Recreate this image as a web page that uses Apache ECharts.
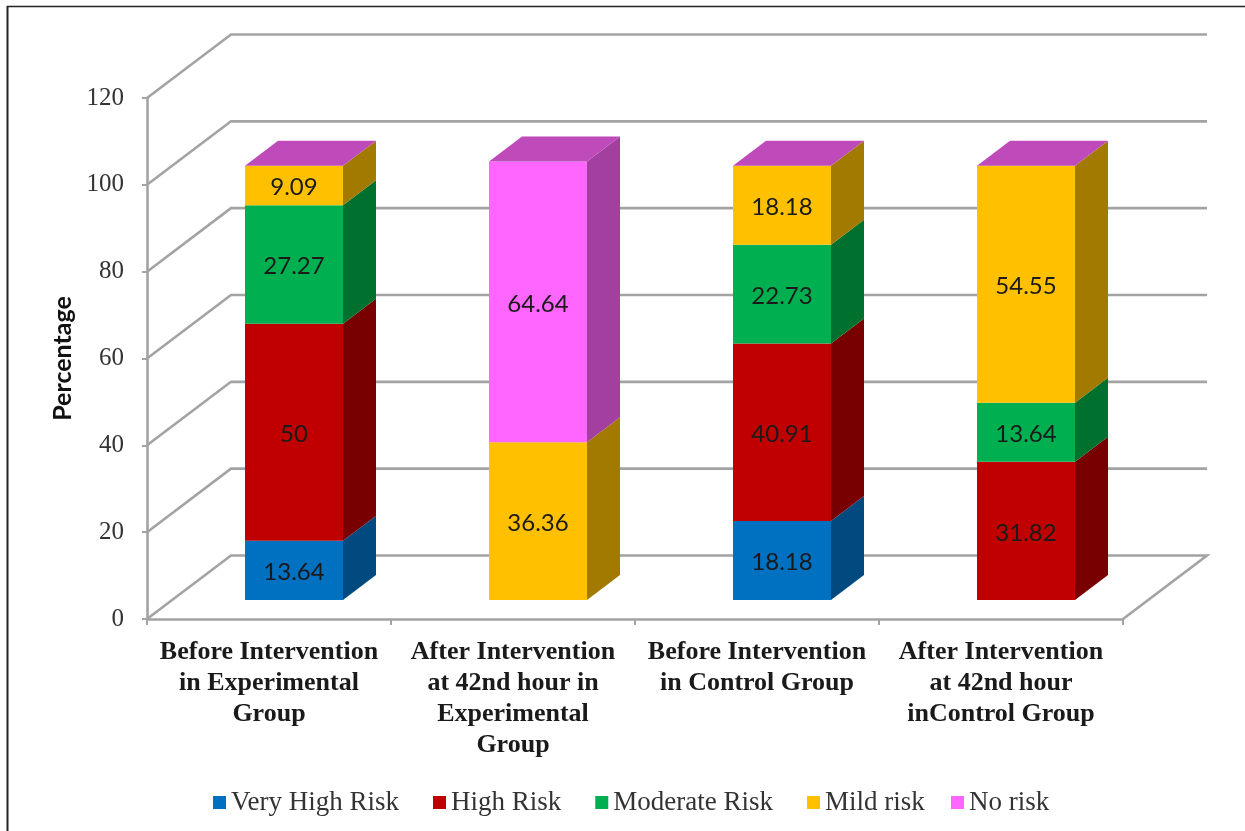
<!DOCTYPE html>
<html>
<head>
<meta charset="utf-8">
<style>html,body{margin:0;padding:0;background:#fff}#chart{width:1245px;height:831px}</style>
<script src="https://cdn.jsdelivr.net/npm/echarts@6/dist/echarts.min.js"></script>
</head>
<body>
<div id="chart"></div>
<script>
// Risk distribution by study group, drawn as pseudo-3D stacked columns.
const categories = [
  'Before Intervention\nin Experimental\nGroup',
  'After Intervention\nat 42nd hour in\nExperimental\nGroup',
  'Before Intervention\nin Control Group',
  'After Intervention\nat 42nd hour\ninControl Group'
];
const veryHighRisk = [13.64, 0, 18.18, 0];
const highRisk = [50, 0, 40.91, 31.82];
const moderateRisk = [27.27, 0, 22.73, 13.64];
const mildRisk = [9.09, 36.36, 18.18, 54.55];
const noRisk = [0, 64.64, 0, 0];
const yTicks = [0, 20, 40, 60, 80, 100, 120];

const serif = '"Liberation Serif", "Times New Roman", serif';
const sans = 'Lato, "Open Sans", sans-serif';
const gridGray = '#a3a3a3';

// Projection of the chart box: wall depth, column inset and column depth.
const WALL = [84, -63.5];
const INSET = [25, -19];
const DEPTH = [33, -25];
const BAR_W = 98;

const stackDefs = [
  { name: 'Very High Risk', values: veryHighRisk, front: '#0070c0', side: '#004a7f' },
  { name: 'High Risk', values: highRisk, front: '#c00000', side: '#780000' },
  { name: 'Moderate Risk', values: moderateRisk, front: '#00b050', side: '#00702f' },
  { name: 'Mild risk', values: mildRisk, front: '#ffc000', side: '#a37a00' },
  { name: 'No risk', values: noRisk, front: '#ff66ff', side: '#a23f9f' }
];
const TOP_FACE = '#bf4bba';

const poly = (points, fill) => ({
  type: 'polygon',
  shape: { points },
  style: { fill, stroke: null }
});

function renderSegment(def, isTopmost) {
  return function (params, api) {
    const idx = api.value(0);
    const lo = api.value(1);
    const hi = api.value(2);
    const pLo = api.coord([idx, lo]);
    const pHi = api.coord([idx, hi]);
    const x0 = pLo[0] + INSET[0] - BAR_W / 2;
    const x1 = x0 + BAR_W;
    const yLo = pLo[1] + INSET[1];
    const yHi = pHi[1] + INSET[1];
    const children = [];
    if (hi > lo) {
      children.push(poly([[x1, yLo], [x1 + DEPTH[0], yLo + DEPTH[1]], [x1 + DEPTH[0], yHi + DEPTH[1]], [x1, yHi]], def.side));
      children.push(poly([[x0, yLo], [x1, yLo], [x1, yHi], [x0, yHi]], def.front));
      children.push({
        type: 'text',
        z2: 5,
        style: {
          text: String(api.value(3)),
          x: (x0 + x1) / 2,
          y: (yLo + yHi) / 2 + 2,
          align: 'center',
          verticalAlign: 'middle',
          fill: '#1a1a1a',
          font: '24px ' + sans
        }
      });
    }
    if (isTopmost) {
      children.push(poly([[x0, yHi], [x1, yHi], [x1 + DEPTH[0], yHi + DEPTH[1]], [x0 + DEPTH[0], yHi + DEPTH[1]]], TOP_FACE));
    }
    return { type: 'group', children };
  };
}

// Cumulative stacking of every risk level per column.
const running = categories.map(() => 0);
const barSeries = stackDefs.map((def, s) => {
  const data = def.values.map((v, i) => {
    const lo = running[i];
    running[i] = lo + v;
    return [i, lo, running[i], v];
  });
  return {
    name: def.name,
    type: 'custom',
    coordinateSystem: 'cartesian2d',
    itemStyle: { color: def.front },
    encode: { x: 0, y: [1, 2] },
    data,
    z: 3,
    renderItem: renderSegment(def, s === stackDefs.length - 1)
  };
});

// Gridlines run along the side wall and back wall; the zero line also closes the floor.
const wallSeries = {
  type: 'custom',
  name: 'walls',
  coordinateSystem: 'cartesian2d',
  silent: true,
  z: 1,
  encode: { x: 0, y: 1 },
  data: yTicks.map(t => [0, t]),
  renderItem(params, api) {
    const box = params.coordSys;
    const y = api.coord([0, api.value(1)])[1];
    const left = box.x;
    const right = box.x + box.width;
    const pts = [[left, y], [left + WALL[0], y + WALL[1]], [right + WALL[0], y + WALL[1]]];
    if (api.value(1) === 0) pts.push([right, y]);
    return {
      type: 'polyline',
      shape: { points: pts },
      style: { stroke: gridGray, lineWidth: 2.6, fill: null }
    };
  }
};

const legendBase = {
  top: 784,
  icon: 'rect',
  itemWidth: 13,
  itemHeight: 13,
  itemGap: 34,
  selectedMode: false,
  textStyle: { fontFamily: serif, fontSize: 27, color: '#333' }
};

const chart = echarts.init(document.getElementById('chart'));
chart.setOption({
  animation: false,
  backgroundColor: '#ffffff',
  grid: { left: 147, right: 122, top: 98, bottom: 212 },
  xAxis: {
    type: 'category',
    data: categories,
    axisLine: { lineStyle: { color: gridGray, width: 2.6 } },
    axisTick: { show: true, length: 6, lineStyle: { color: gridGray, width: 2 } },
    axisLabel: {
      interval: 0,
      margin: 18,
      lineHeight: 31,
      color: '#1a1a1a',
      fontFamily: serif,
      fontWeight: 'bold',
      fontSize: 26
    }
  },
  yAxis: {
    type: 'value',
    min: 0,
    max: 120,
    interval: 20,
    name: 'Percentage',
    nameLocation: 'middle',
    nameGap: 72,
    nameRotate: 90,
    nameTextStyle: { fontFamily: sans, fontWeight: 'bold', fontSize: 25, color: '#111' },
    splitLine: { show: false },
    axisLine: { show: true, lineStyle: { color: gridGray, width: 2.6 } },
    axisTick: { show: true, length: 5, lineStyle: { color: gridGray, width: 2 } },
    axisLabel: { margin: 23, fontFamily: serif, fontSize: 25, color: '#333' }
  },
  legend: [
    Object.assign({}, legendBase, { left: 208, data: stackDefs.slice(0, 4).map(d => d.name) }),
    Object.assign({}, legendBase, { left: 946, data: stackDefs.slice(4).map(d => d.name) })
  ],
  graphic: [
    { type: 'line', silent: true, shape: { x1: 7.5, y1: 6, x2: 7.5, y2: 831 }, style: { stroke: '#222', lineWidth: 2 } },
    { type: 'line', silent: true, shape: { x1: 7, y1: 6.5, x2: 1245, y2: 6.5 }, style: { stroke: '#222', lineWidth: 1.5 } }
  ],
  series: [wallSeries].concat(barSeries)
});
</script>
</body>
</html>
